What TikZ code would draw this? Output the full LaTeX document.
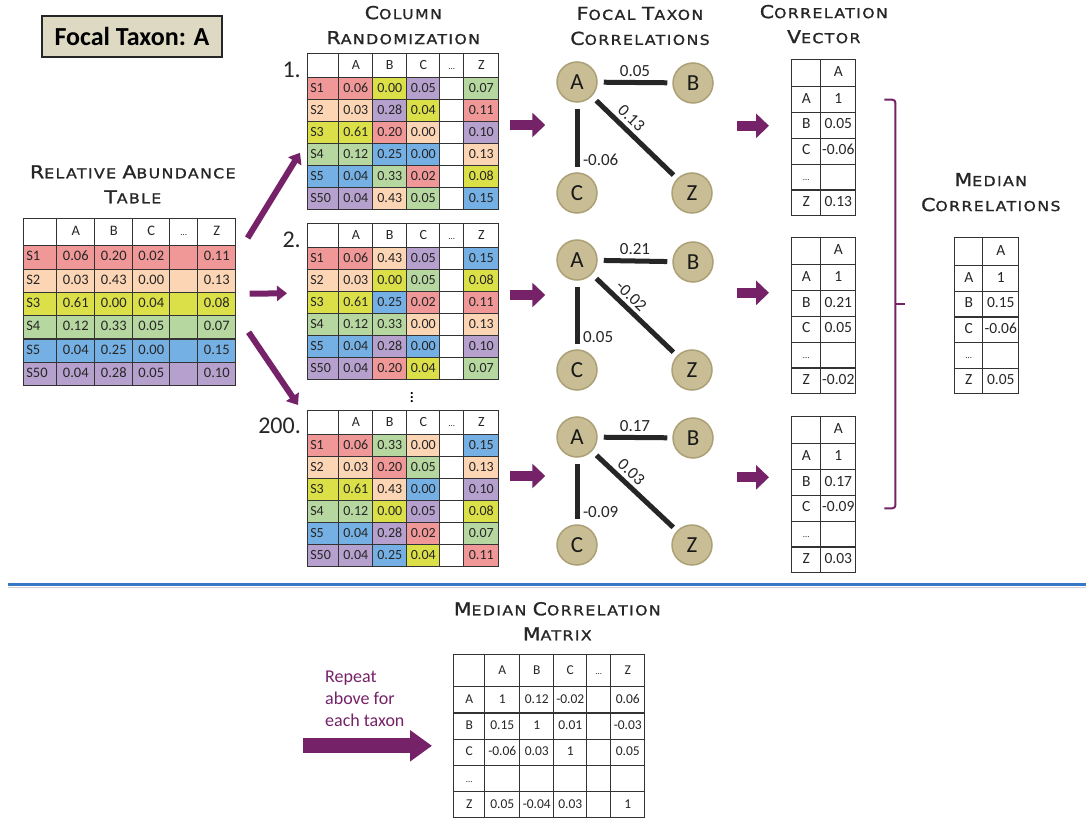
\documentclass[tikz,border=0pt]{standalone}
\usepackage{fontspec}
\setmainfont{Carlito}
\newfontfamily\capfont[FakeStretch=1.15,LetterSpace=10,FakeBold=1.2]{DejaVu Sans}
\usepackage{tikz}
\usetikzlibrary{arrows.meta, positioning, matrix, calc}
\definecolor{sred}{RGB}{240,152,152}
\definecolor{speach}{RGB}{252,213,181}
\definecolor{syellow}{RGB}{220,224,72}
\definecolor{sgreen}{RGB}{183,215,160}
\definecolor{sblue}{RGB}{117,176,228}
\definecolor{sviolet}{RGB}{182,160,205}
\definecolor{taxtan}{RGB}{200,189,148}
\definecolor{taxedge}{RGB}{172,160,118}
\definecolor{focalbg}{RGB}{221,217,195}
\definecolor{purp}{RGB}{118,34,104}
\definecolor{sepblue}{RGB}{52,120,198}
\newcommand\hw[2]{{\fontsize{17.8}{25}\selectfont #1}{\fontsize{13.7}{25}\selectfont #2}}
\newcommand\smdots{{\fontsize{9}{9}\selectfont\ldots}}

\begin{document}
\begin{tikzpicture}[x=1pt, y=-1pt,
  cell/.style={draw=black!80, line width=1.2pt, inner sep=1pt, text=black!85,
               anchor=center, text height=9.5pt, text depth=2.5pt},
  tabbase/.style={matrix of nodes, nodes in empty cells, inner sep=0pt,
                  column sep=-1.2pt, row sep=-1.2pt},
  abtab/.style={tabbase, nodes={cell, font=\fontsize{14.5}{15}\selectfont, minimum height=23.3pt},
     row 1/.style={nodes={minimum height=27pt}},
     column 1/.style={nodes={text width=28pt, align=left, inner xsep=2.5pt}},
     column 2/.style={nodes={minimum width=38pt}}, column 3/.style={nodes={minimum width=38pt}},
     column 4/.style={nodes={minimum width=37pt}}, column 5/.style={nodes={minimum width=28pt}},
     column 6/.style={nodes={minimum width=38pt}}},
  rtab/.style={tabbase, nodes={cell, font=\fontsize{14}{15}\selectfont, minimum height=22pt},
     row 1/.style={nodes={minimum height=24pt}},
     column 1/.style={nodes={text width=26pt, align=left, inner xsep=2.5pt}},
     column 2/.style={nodes={minimum width=34pt}}, column 3/.style={nodes={minimum width=34pt}},
     column 4/.style={nodes={minimum width=33pt}}, column 5/.style={nodes={minimum width=24pt}},
     column 6/.style={nodes={minimum width=35pt}}},
  vtab/.style={tabbase, nodes={cell, font=\fontsize{15.5}{16}\selectfont, minimum height=25.8pt},
     row 1/.style={nodes={minimum height=27pt}},
     column 1/.style={nodes={minimum width=29pt}}, column 2/.style={nodes={minimum width=35pt}}},
  medtab/.style={tabbase, nodes={cell, font=\fontsize{15.5}{16}\selectfont, minimum height=25.6pt},
     row 1/.style={nodes={minimum height=28pt}},
     column 1/.style={nodes={minimum width=28pt}}, column 2/.style={nodes={minimum width=36pt}}},
  mtab/.style={tabbase, nodes={cell, font=\fontsize{13.5}{14}\selectfont, minimum height=26.2pt},
     row 1/.style={nodes={minimum height=32pt}},
     column 1/.style={nodes={minimum width=31pt}}, column 2/.style={nodes={minimum width=35pt}},
     column 3/.style={nodes={minimum width=34pt}}, column 4/.style={nodes={minimum width=33pt}},
     column 5/.style={nodes={minimum width=24pt}}, column 6/.style={nodes={minimum width=34pt}}},
  fR/.style={fill=sred}, fP/.style={fill=speach}, fY/.style={fill=syellow},
  fG/.style={fill=sgreen}, fB/.style={fill=sblue}, fV/.style={fill=sviolet},
  hdr/.style={font=\capfont\fontsize{13.7}{25}\selectfont, align=center, text=black!85, inner sep=0pt},
  taxon/.style={circle, draw=taxedge, line width=1.5pt, fill=taxtan, minimum size=40pt,
                inner sep=0pt, font=\fontsize{23}{24}\selectfont, text=black!90},
  corr/.style={draw=black!85, line width=5pt, shorten <=6pt, shorten >=5pt},
  elab/.style={font=\fontsize{17}{18}\selectfont, text=black!85, inner sep=3.5pt},
  numlab/.style={font=\fontsize{24}{25}\selectfont, text=black!85, inner sep=0pt, anchor=east},
  fatarr/.style={draw=purp, line width=10pt, -{Triangle[length=13pt,width=24pt]}},
  fanarr/.style={draw=purp, line width=6pt, -{Triangle[length=10pt,width=15pt]}},
  reparr/.style={draw=purp, line width=15pt, -{Triangle[length=22pt,width=30pt]}},
  medbrk/.style={draw=purp, line width=2pt, rounded corners=3pt}
]
  \fill[white] (0,0) rectangle (1086,818);
  \useasboundingbox (0,0) rectangle (1086,818);

  % focal taxon box
  \node[draw=black!85, line width=2pt, fill=focalbg, minimum width=180pt, minimum height=41pt,
        font=\bfseries\fontsize{26}{27}\selectfont] (focal) at (132,36.5) {Focal Taxon: A};

  % relative abundance table
  \matrix (abund) [abtab, anchor=north west,
    row 2/.style={nodes={fill=sred}}, row 3/.style={nodes={fill=speach}},
    row 4/.style={nodes={fill=syellow}}, row 5/.style={nodes={fill=sgreen}},
    row 6/.style={nodes={fill=sblue}}, row 7/.style={nodes={fill=sviolet}}] at (23,218) {
     & A & B & C & \smdots & Z \\
    S1 & 0.06 & 0.20 & 0.02 & & 0.11 \\
    S2 & 0.03 & 0.43 & 0.00 & & 0.13 \\
    S3 & 0.61 & 0.00 & 0.04 & & 0.08 \\
    S4 & 0.12 & 0.33 & 0.05 & & 0.07 \\
    S5 & 0.04 & 0.25 & 0.00 & & 0.15 \\
    S50 & 0.04 & 0.28 & 0.05 & & 0.10 \\
  };
  \node[hdr, above=14.5pt of abund, xshift=3pt] (habund) {\hw{R}{ELATIVE} \hw{A}{BUNDANCE}\\\hw{T}{ABLE}};

  % column randomization
  \matrix (rand1) [rtab, anchor=north west] at (307,53) {
     & A & B & C & \smdots & Z \\
    |[fR]| S1 & |[fR]| 0.06 & |[fY]| 0.00 & |[fV]| 0.05 & & |[fG]| 0.07 \\
    |[fP]| S2 & |[fP]| 0.03 & |[fV]| 0.28 & |[fY]| 0.04 & & |[fR]| 0.11 \\
    |[fY]| S3 & |[fY]| 0.61 & |[fR]| 0.20 & |[fP]| 0.00 & & |[fV]| 0.10 \\
    |[fG]| S4 & |[fG]| 0.12 & |[fB]| 0.25 & |[fB]| 0.00 & & |[fP]| 0.13 \\
    |[fB]| S5 & |[fB]| 0.04 & |[fG]| 0.33 & |[fR]| 0.02 & & |[fY]| 0.08 \\
    |[fV]| S50 & |[fV]| 0.04 & |[fP]| 0.43 & |[fG]| 0.05 & & |[fB]| 0.15 \\
  };
  \matrix (rand2) [rtab, anchor=north west] at (307,223) {
     & A & B & C & \smdots & Z \\
    |[fR]| S1 & |[fR]| 0.06 & |[fP]| 0.43 & |[fV]| 0.05 & & |[fB]| 0.15 \\
    |[fP]| S2 & |[fP]| 0.03 & |[fY]| 0.00 & |[fG]| 0.05 & & |[fY]| 0.08 \\
    |[fY]| S3 & |[fY]| 0.61 & |[fB]| 0.25 & |[fR]| 0.02 & & |[fR]| 0.11 \\
    |[fG]| S4 & |[fG]| 0.12 & |[fG]| 0.33 & |[fP]| 0.00 & & |[fP]| 0.13 \\
    |[fB]| S5 & |[fB]| 0.04 & |[fV]| 0.28 & |[fB]| 0.00 & & |[fV]| 0.10 \\
    |[fV]| S50 & |[fV]| 0.04 & |[fR]| 0.20 & |[fY]| 0.04 & & |[fG]| 0.07 \\
  };
  \matrix (rand3) [rtab, anchor=north west] at (307,410) {
     & A & B & C & \smdots & Z \\
    |[fR]| S1 & |[fR]| 0.06 & |[fG]| 0.33 & |[fP]| 0.00 & & |[fB]| 0.15 \\
    |[fP]| S2 & |[fP]| 0.03 & |[fR]| 0.20 & |[fG]| 0.05 & & |[fP]| 0.13 \\
    |[fY]| S3 & |[fY]| 0.61 & |[fP]| 0.43 & |[fB]| 0.00 & & |[fV]| 0.10 \\
    |[fG]| S4 & |[fG]| 0.12 & |[fY]| 0.00 & |[fV]| 0.05 & & |[fY]| 0.08 \\
    |[fB]| S5 & |[fB]| 0.04 & |[fV]| 0.28 & |[fR]| 0.02 & & |[fG]| 0.07 \\
    |[fV]| S50 & |[fV]| 0.04 & |[fB]| 0.25 & |[fY]| 0.04 & & |[fR]| 0.11 \\
  };
  \node[hdr, above=8.5pt of rand1] (hrand) {\hw{C}{OLUMN}\\\hw{R}{ANDOMIZATION}};
  \node[numlab] (num1) at ($(rand1.north west)+(-6,17)$) {1.};
  \node[numlab] (num2) at ($(rand2.north west)+(-6,17)$) {2.};
  \node[numlab] (num200) at ($(rand3.north west)+(-6,16)$) {200.};
  \node[font=\fontsize{18}{18}\selectfont, inner sep=0pt] (vdots) at (412,395) {$\vdots$};

  \draw[fanarr] ($(abund.north east)+(11,20)$) -- ($(rand1.west)+(-7,21)$);
  \draw[fanarr] ($(abund.east)+(13,-8.5)$) -- ($(rand2.west)+(-20,-8.5)$);
  \draw[fanarr] ($(abund.east)+(12,30)$) -- ($(rand3.north west)+(-9,-5)$);

  % focal taxon correlations
  \node[taxon] (A1) at (577,82) {A};
  \node[taxon] (B1) at (693,83) {B};
  \node[taxon] (C1) at (577,193) {C};
  \node[taxon] (Z1) at (692,193) {Z};
  \draw[corr] (A1) -- node[above, elab]{0.05} (B1);
  \draw[corr] (A1) -- node[right, pos=0.82, elab]{-0.06} (C1);
  \draw[corr] (A1) -- node[above, sloped, pos=0.37, elab]{0.13} (Z1);

  \node[taxon] (A2) at (577,260) {A};
  \node[taxon] (B2) at (693,262) {B};
  \node[taxon] (C2) at (577,370) {C};
  \node[taxon] (Z2) at (692,370) {Z};
  \draw[corr] (A2) -- node[above, elab]{0.21} (B2);
  \draw[corr] (A2) -- node[right, pos=0.82, elab]{0.05} (C2);
  \draw[corr] (A2) -- node[above, sloped, pos=0.37, elab]{-0.02} (Z2);

  \node[taxon] (A3) at (577,437) {A};
  \node[taxon] (B3) at (693,438) {B};
  \node[taxon] (C3) at (577,545) {C};
  \node[taxon] (Z3) at (692,545) {Z};
  \draw[corr] (A3) -- node[above, elab]{0.17} (B3);
  \draw[corr] (A3) -- node[right, pos=0.82, elab]{-0.09} (C3);
  \draw[corr] (A3) -- node[above, sloped, pos=0.37, elab]{0.03} (Z3);

  \node[hdr] (hfocal) at (640,26) {\hw{F}{OCAL} \hw{T}{AXON}\\\hw{C}{ORRELATIONS}};

  \draw[fatarr] ($(A1.west)+(-46,43)$) -- ($(A1.west)+(-11,43)$);
  \draw[fatarr] ($(A2.west)+(-46,35)$) -- ($(A2.west)+(-11,35)$);
  \draw[fatarr] ($(A3.west)+(-46,39)$) -- ($(A3.west)+(-11,39)$);

  % correlation vectors
  \matrix (vec1) [vtab, anchor=north west] at (791,59) {
     & A \\ A & 1 \\ B & 0.05 \\ C & -0.06 \\ \smdots & \\ Z & 0.13 \\
  };
  \matrix (vec2) [vtab, anchor=north west] at (791,237) {
     & A \\ A & 1 \\ B & 0.21 \\ C & 0.05 \\ \smdots & \\ Z & -0.02 \\
  };
  \matrix (vec3) [vtab, anchor=north west] at (791,416) {
     & A \\ A & 1 \\ B & 0.17 \\ C & -0.09 \\ \smdots & \\ Z & 0.03 \\
  };
  \node[hdr, above=15.5pt of vec1] (hvec) {\hw{C}{ORRELATION}\\\hw{V}{ECTOR}};

  \draw[fatarr] ($(vec1.west)+(-54,-12)$) -- ($(vec1.west)+(-22,-12)$);
  \draw[fatarr] ($(vec2.west)+(-54,-23)$) -- ($(vec2.west)+(-22,-23)$);
  \draw[fatarr] ($(vec3.west)+(-54,-17.5)$) -- ($(vec3.west)+(-22,-17.5)$);

  \draw[medbrk] ($(vec1-2-2.east)+(28,0)$) -| ($(vec3-4-2.east)+(39,0)$) -- ($(vec3-4-2.east)+(28,0)$);
  \draw[medbrk] ($(vec2-3-2.east)+(39,0)$) -- ($(vec2-3-2.east)+(49,0)$);

  % median correlations
  \matrix (med) [medtab, anchor=north west] at (954,237) {
     & A \\ A & 1 \\ B & 0.15 \\ C & -0.06 \\ \smdots & \\ Z & 0.05 \\
  };
  \node[hdr, above=25.5pt of med, xshift=4pt] (hmed) {\hw{M}{EDIAN}\\\hw{C}{ORRELATIONS}};

  % separator
  \draw[gray!35, line width=1.5pt] (8,587.5) -- (1086,587.5);
  \draw[sepblue, line width=3pt] (8,584) -- (1086,584);

  % median correlation matrix
  \matrix (medmat) [mtab, anchor=north west] at (453,654) {
     & A & B & C & \smdots & Z \\
    A & 1 & 0.12 & -0.02 & & 0.06 \\
    B & 0.15 & 1 & 0.01 & & -0.03 \\
    C & -0.06 & 0.03 & 1 & & 0.05 \\
    \smdots & & & & & \\
    Z & 0.05 & -0.04 & 0.03 & & 1 \\
  };
  \node[hdr, above=13.5pt of medmat, xshift=8pt] (hmedmat) {\hw{M}{EDIAN} \hw{C}{ORRELATION}\\\hw{M}{ATRIX}};

  \node[anchor=north west, align=left, inner sep=0pt, text=purp,
        font=\fontsize{18}{22}\selectfont] (repeat) at (325,671) {Repeat\\above for\\each taxon};
  \draw[reparr] ($(medmat.west)+(-150,9.5)$) -- ($(medmat.west)+(-21,9.5)$);
\end{tikzpicture}
\end{document}
